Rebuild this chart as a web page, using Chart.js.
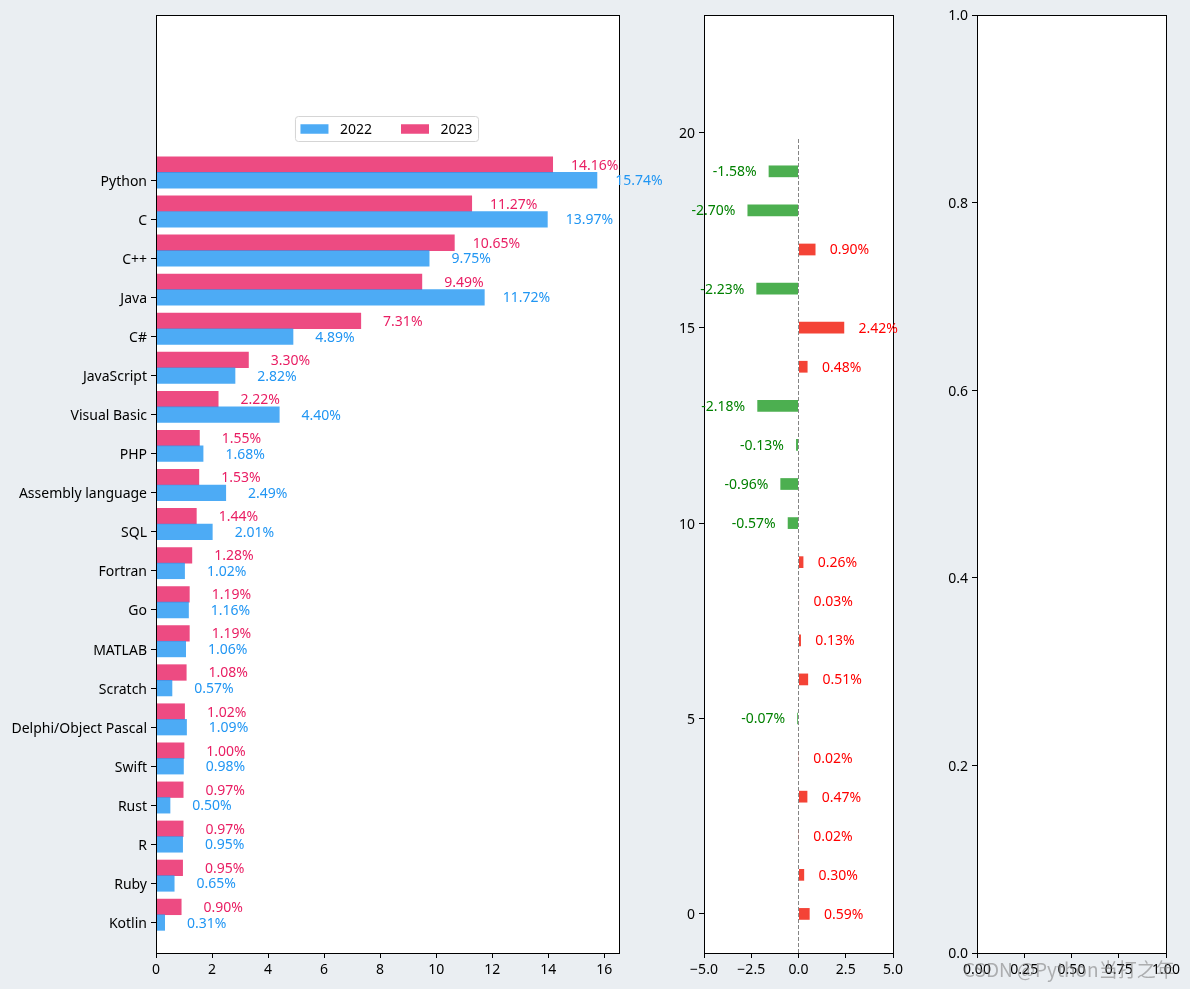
<!DOCTYPE html>
<html>
<head>
<meta charset="utf-8">
<script src="https://cdn.jsdelivr.net/npm/chart.js@4.4.1/dist/chart.umd.min.js"></script>
<style>
html, body { margin: 0; padding: 0; width: 1190px; height: 989px; overflow: hidden; background: #eaeef2; }
canvas { position: absolute; top: 0; }
#wm { position: absolute; left: 963px; top: 955px; font-family: 'Noto Sans CJK SC', 'Noto Sans', sans-serif; font-size: 19px; color: rgba(120,120,120,0.55); white-space: nowrap; pointer-events: none; }
</style>
</head>
<body>
<canvas id="left" width="690" height="989" style="left:0px"></canvas>
<canvas id="mid" width="280" height="989" style="left:660px"></canvas>
<canvas id="right" width="260" height="989" style="left:930px"></canvas>
<div id="wm">CSDN @Python当打之年</div>
<script>
// ---------------- data ----------------
const languages = ['Kotlin', 'Ruby', 'R', 'Rust', 'Swift', 'Delphi/Object Pascal', 'Scratch', 'MATLAB', 'Go', 'Fortran',
  'SQL', 'Assembly language', 'PHP', 'Visual Basic', 'JavaScript', 'C#', 'Java', 'C++', 'C', 'Python'];
const share2022 = [0.31, 0.65, 0.95, 0.50, 0.98, 1.09, 0.57, 1.06, 1.16, 1.02,
  2.01, 2.49, 1.68, 4.40, 2.82, 4.89, 11.72, 9.75, 13.97, 15.74];
const share2023 = [0.90, 0.95, 0.97, 0.97, 1.00, 1.02, 1.08, 1.19, 1.19, 1.28,
  1.44, 1.53, 1.55, 2.22, 3.30, 7.31, 9.49, 10.65, 11.27, 14.16];
const change = [0.59, 0.30, 0.02, 0.47, 0.02, -0.07, 0.51, 0.13, 0.03, 0.26,
  -0.57, -0.96, -0.13, -2.18, 0.48, 2.42, -2.23, 0.90, -2.70, -1.58];
const seriesNames = ['2022', '2023'];
const leftXTicks = [0, 2, 4, 6, 8, 10, 12, 14, 16];
const midXTicks = [-5, -2.5, 0, 2.5, 5];
const midYTicks = [0, 5, 10, 15, 20];
const rightXTicks = [0, 0.25, 0.5, 0.75, 1];
const rightYTicks = [0, 0.2, 0.4, 0.6, 0.8, 1];
const zeroLineSpan = [-1, 19.87];

// ---------------- styles ----------------
const FONT = { family: "'Noto Sans', 'DejaVu Sans', sans-serif", size: 14 };
const FONT_CSS = "14px 'Noto Sans', 'DejaVu Sans', sans-serif";
const C2022 = 'rgba(33,150,243,0.8)', C2023 = 'rgba(233,30,99,0.8)';
const T2022 = '#2196f3', T2023 = '#e91e63';
const UP = '#f44336', DOWN = '#4caf50';

function axis(tickVals, fmt, fixed, isX, min, max) {
  return {
    type: 'linear', min, max, offset: false,
    afterBuildTicks: s => { s.ticks = tickVals.map(v => ({ value: v })); },
    afterFit: s => { if (isX) s.height = fixed; else s.width = fixed; },
    grid: { display: true, drawOnChartArea: false, drawTicks: true, tickLength: 5, color: '#000', lineWidth: 1, offset: false },
    border: { display: false },
    ticks: { color: '#000', font: FONT, padding: 4, autoSkip: false, maxRotation: 0, minRotation: 0, callback: fmt,
      labelOffset: isX ? 0 : 1.5 }
  };
}

const framePlugin = {
  id: 'frame',
  beforeDraw(chart) {
    const { ctx, chartArea: a } = chart;
    ctx.save(); ctx.fillStyle = '#fff'; ctx.fillRect(a.left, a.top, a.width, a.height); ctx.restore();
  },
  afterDatasetsDraw(chart) {
    const { ctx, chartArea: a } = chart;
    ctx.save(); ctx.strokeStyle = '#000'; ctx.lineWidth = 1;
    ctx.strokeRect(Math.round(a.left) + 0.5, Math.round(a.top) + 0.5, Math.round(a.width), Math.round(a.height));
    ctx.restore();
  }
};

// ---------------- left chart ----------------
const leftLabels = {
  id: 'leftLabels',
  afterDatasetsDraw(chart) {
    const { ctx, scales: { x, y } } = chart;
    ctx.save(); ctx.font = FONT_CSS; ctx.textAlign = 'center'; ctx.textBaseline = 'middle';
    languages.forEach((_, i) => {
      ctx.fillStyle = T2022;
      ctx.fillText(share2022[i].toFixed(2) + '%', x.getPixelForValue(share2022[i] + 1.5), y.getPixelForValue(i) + 1);
      ctx.fillStyle = T2023;
      ctx.fillText(share2023[i].toFixed(2) + '%', x.getPixelForValue(share2023[i] + 1.5), y.getPixelForValue(i + 0.4) + 1);
    });
    ctx.restore();
  }
};
const innerLegend = {
  id: 'innerLegend',
  afterDraw(chart) {
    const { ctx, chartArea: a } = chart;
    ctx.save(); ctx.font = FONT_CSS;
    const items = chart.data.datasets.map(d => ({ text: d.label, color: d.backgroundColor, w: ctx.measureText(d.label).width }));
    const pad = 5.5, patchW = 28, patchH = 9.5, gapText = 11.5, colGap = 29;
    let boxW = pad * 2;
    items.forEach((it, k) => { boxW += patchW + gapText + it.w + (k ? colGap : 0); });
    const boxH = 25;
    const left = (a.left + a.right) / 2 - boxW / 2 - 1, top = a.top + 101;
    ctx.beginPath(); ctx.roundRect(left + 0.5, top + 0.5, boxW, boxH, 3);
    ctx.fillStyle = 'rgba(255,255,255,0.8)'; ctx.fill();
    ctx.strokeStyle = '#d5d5d5'; ctx.lineWidth = 1; ctx.stroke();
    let cx = left + pad; const cy = top + boxH / 2 + 0.5;
    ctx.textBaseline = 'middle'; ctx.textAlign = 'left';
    items.forEach((it, k) => {
      if (k) cx += colGap;
      ctx.fillStyle = it.color; ctx.fillRect(cx, cy - patchH / 2, patchW, patchH);
      cx += patchW + gapText;
      ctx.fillStyle = '#000'; ctx.fillText(it.text, cx, cy + 1);
      cx += it.w;
    });
    ctx.restore();
  }
};

new Chart(document.getElementById('left'), {
  type: 'bar',
  data: {
    datasets: [
      { label: seriesNames[0], data: languages.map((_, i) => ({ x: share2022[i], y: i })), backgroundColor: C2022,
        grouped: false, categoryPercentage: 1, barPercentage: 1, borderWidth: 0 },
      { label: seriesNames[1], data: languages.map((_, i) => ({ x: share2023[i], y: i + 0.4 })), backgroundColor: C2023,
        grouped: false, categoryPercentage: 1, barPercentage: 1, borderWidth: 0 }
    ]
  },
  options: {
    indexAxis: 'y', responsive: false, animation: false, devicePixelRatio: 1,
    layout: { padding: { top: 15, right: 71, left: 0, bottom: 0 } },
    plugins: { legend: { display: false }, tooltip: { enabled: false } },
    scales: {
      x: axis(leftXTicks, v => String(v), 36, true, 0, 16.527),
      y: axis(languages.map((_, i) => i), v => languages[v], 156, false, -0.78, 23.23)
    }
  },
  plugins: [framePlugin, leftLabels, innerLegend]
});

// ---------------- middle chart ----------------
const minus = v => (v < 0 ? '\u2212' : '') + Math.abs(v).toFixed(1);
const midLabels = {
  id: 'midLabels',
  afterDatasetsDraw(chart) {
    const { ctx, scales: { x, y } } = chart;
    ctx.save(); ctx.font = FONT_CSS; ctx.textAlign = 'center'; ctx.textBaseline = 'middle';
    change.forEach((v, i) => {
      ctx.fillStyle = v >= 0 ? 'red' : 'green';
      ctx.fillText(v.toFixed(2) + '%', x.getPixelForValue(v + (v >= 0 ? 1.8 : -1.8)), y.getPixelForValue(i) + 1);
    });
    ctx.restore();
  }
};
new Chart(document.getElementById('mid'), {
  type: 'bar',
  data: {
    datasets: [
      { type: 'bar', data: change.map((v, i) => ({ x: v, y: i })), backgroundColor: change.map(v => v >= 0 ? UP : DOWN),
        categoryPercentage: 0.3, barPercentage: 1, borderWidth: 0 },
      { type: 'line', data: zeroLineSpan.map(v => ({ x: 0, y: v })), borderColor: '#666', borderWidth: 0.8,
        borderDash: [4, 2], pointRadius: 0, fill: false }
    ]
  },
  options: {
    indexAxis: 'y', responsive: false, animation: false, devicePixelRatio: 1,
    layout: { padding: { top: 15, right: 47, left: 0, bottom: 0 } },
    plugins: { legend: { display: false }, tooltip: { enabled: false } },
    scales: {
      x: axis(midXTicks, minus, 36, true, -5, 5),
      y: axis(midYTicks, v => String(v), 44, false, -1, 23)
    }
  },
  plugins: [framePlugin, midLabels]
});

// ---------------- right (empty) chart ----------------
new Chart(document.getElementById('right'), {
  type: 'scatter',
  data: { datasets: [] },
  options: {
    responsive: false, animation: false, devicePixelRatio: 1,
    layout: { padding: { top: 15, right: 24, left: 0, bottom: 0 } },
    plugins: { legend: { display: false }, tooltip: { enabled: false } },
    scales: {
      x: axis(rightXTicks, v => v.toFixed(2), 36, true, 0, 1),
      y: axis(rightYTicks, v => v.toFixed(1), 47, false, 0, 1)
    }
  },
  plugins: [framePlugin]
});
</script>
</body>
</html>
